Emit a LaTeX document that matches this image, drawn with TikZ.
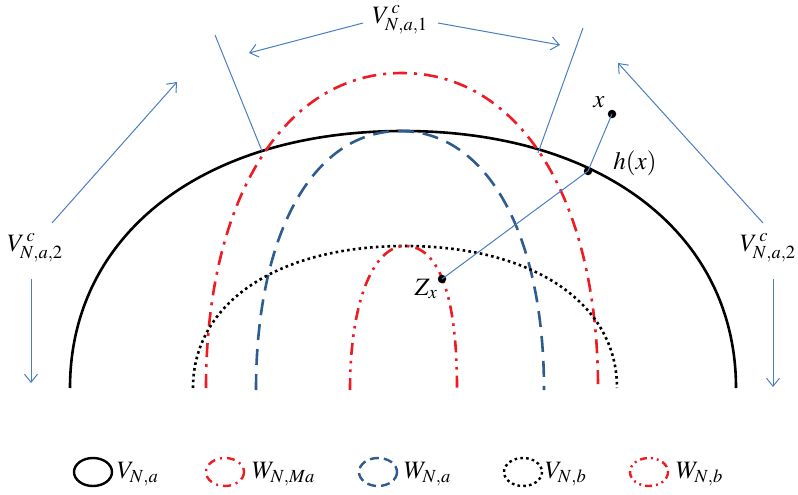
\documentclass[tikz,border=0pt]{standalone}
\usepackage{mathptmx}
\usetikzlibrary{arrows.meta}
\definecolor{cred}{HTML}{ED1C24}
\definecolor{cblue}{HTML}{2E5C8E}
\definecolor{lblue}{HTML}{4A7EC2}
\begin{document}
\begin{tikzpicture}[x=1pt,y=-1pt,
  every node/.style={font=\fontsize{25}{30}\selectfont, inner sep=0pt},
  solidV/.style={line width=2.6pt, black},
  wma/.style={line width=2.6pt, cred, dash pattern=on 14pt off 7pt on 3pt off 7pt},
  wna/.style={line width=2.6pt, cblue, dash pattern=on 16pt off 9pt},
  vnb/.style={line width=2.6pt, black, dash pattern=on 2.6pt off 3.2pt},
  wnb/.style={line width=2.6pt, cred, dash pattern=on 12pt off 6pt on 2.6pt off 6pt on 2.6pt off 6pt},
  bline/.style={lblue, line width=1pt},
  arr/.style={bline, -{Straight Barb[length=8pt,width=13pt]}},
  dot/.style={circle, fill=black, minimum size=8.5pt, inner sep=0pt},
  lg/.style={line width=2.4pt}]
\useasboundingbox (0,0) rectangle (798,495);

% V_{N,a}
\draw[solidV] (70,388) .. controls (70,234.4) and (203.2,131) .. (403,131)
  .. controls (602.8,131) and (736,234.4) .. (736,388);
% W_{N,Ma}
\draw[wma] (206,388) .. controls (206,199) and (284.2,73) .. (402,73)
  .. controls (519.8,73) and (598,199) .. (598,388);
% W_{N,a}
\draw[wna] (256,390) .. controls (256,234) and (313,131) .. (400,131)
  .. controls (487,131) and (544,234) .. (544,390);
% V_{N,b}
\draw[vnb] (193,388) .. controls (193,302.8) and (277.6,246) .. (405,246)
  .. controls (532.4,246) and (617,302.8) .. (617,388);
% W_{N,b}
\draw[wnb] (350,390) .. controls (350,302.8) and (373,246) .. (405,246)
  .. controls (439,246) and (457,296) .. (457,388);

% points
\node[dot] (zx) at (442,279) {};
\node[dot] (hx) at (588,171) {};
\node[dot] (xp) at (612,114) {};
\node (zxl) at (426,289) {$Z_x$};
\node (hxl) at (635,163) {$h(x)$};
\node (xl) at (599,102) {$x$};
\draw[bline] (zx.center) -- (hx.center) -- (xp.center);

% boundary lines of V^c_{N,a,1}
\coordinate (tl1) at (215,35);
\coordinate (tl2) at (262,151);
\coordinate (tr1) at (583,28);
\coordinate (tr2) at (538,153);
\draw[bline] (tl1) -- (tl2);
\draw[bline] (tr1) -- (tr2);

% top label and arrows
\node (top) at (400,20) {$V^{\,c}_{N,a,1}$};
\coordinate (ta1) at (363,23);
\coordinate (ta2) at (249,53);
\coordinate (tb1) at (438,23);
\coordinate (tb2) at (560,45);
\draw[arr] (ta1) -- (ta2);
\draw[arr] (tb1) -- (tb2);

% left label and arrows
\node (left) at (35,248) {$V^{\,c}_{N,a,2}$};
\coordinate (la1) at (52,223);
\coordinate (la2) at (177,82);
\coordinate (lb1) at (31,279);
\coordinate (lb2) at (31,383);
\draw[arr] (la1) -- (la2);
\draw[arr] (lb1) -- (lb2);

% right label and arrows
\node[anchor=west] (right) at (740,248) {$V^{\,c}_{N,a,2}$};
\coordinate (ra1) at (763,223);
\coordinate (ra2) at (618,63);
\coordinate (rb1) at (773,279);
\coordinate (rb2) at (773,387);
\draw[arr] (ra1) -- (ra2);
\draw[arr] (rb1) -- (rb2);

% legend
\draw[solidV, lg] (93,472) ellipse [x radius=19, y radius=14];
\node[anchor=west] (l1) at (117,474) {$V_{N,a}$};
\draw[wma, lg, dash pattern=on 8pt off 5pt on 2pt off 5pt] (225,472) ellipse [x radius=19, y radius=14];
\node[anchor=west] (l2) at (252,474) {$W_{N,Ma}$};
\draw[wna, lg, dash pattern=on 9pt off 5pt] (378,472) ellipse [x radius=19, y radius=14];
\node[anchor=west] (l3) at (404,474) {$W_{N,a}$};
\draw[vnb, lg] (523,472) ellipse [x radius=19, y radius=14];
\node[anchor=west] (l4) at (545,474) {$V_{N,b}$};
\draw[wnb, lg, dash pattern=on 7pt off 4pt on 2pt off 4pt on 2pt off 4pt] (649,472) ellipse [x radius=19, y radius=14];
\node[anchor=west] (l5) at (676,474) {$W_{N,b}$};
\end{tikzpicture}
\end{document}
